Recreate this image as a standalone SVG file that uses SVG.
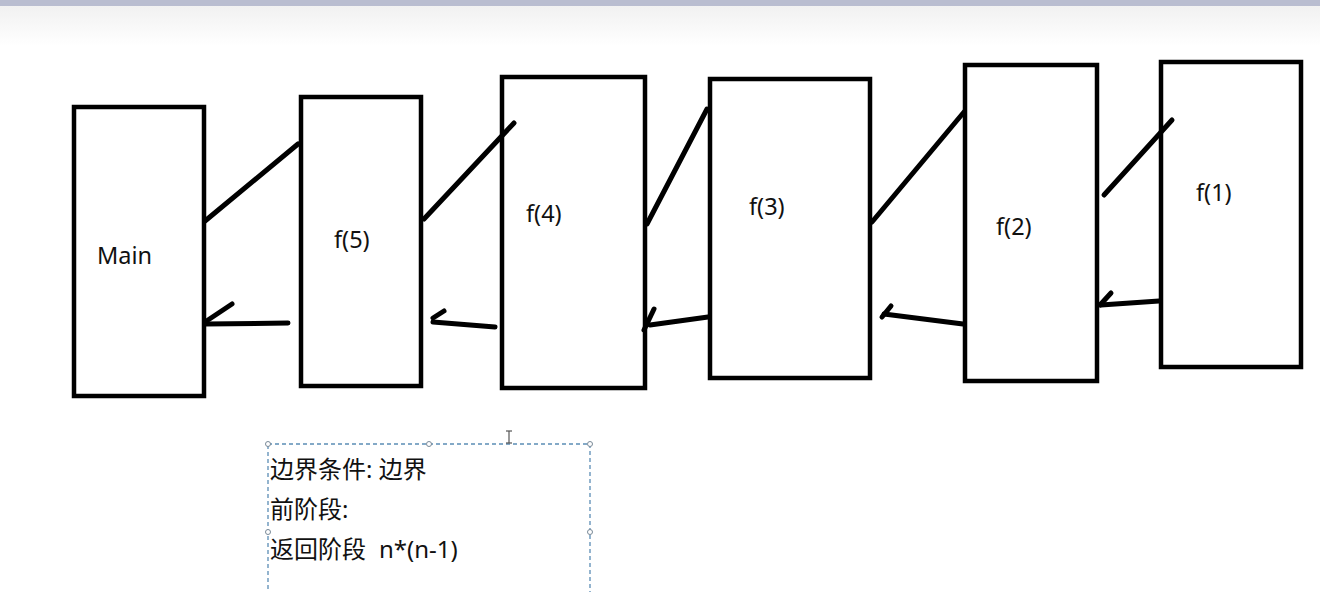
<svg xmlns="http://www.w3.org/2000/svg" width="1320" height="592" viewBox="0 0 1320 592">
<defs>
<linearGradient id="bg" x1="0" y1="0" x2="0" y2="1">
<stop offset="0" stop-color="#f1f1f1"/>
<stop offset="1" stop-color="#ffffff"/>
</linearGradient>
<style>
.box{fill:#ffffff;stroke:#000;stroke-width:4.5}
.ln{stroke:#000;stroke-width:5;stroke-linecap:round;fill:none}
.lbl{font-family:"Noto Sans","Noto Sans CJK SC",sans-serif;font-size:23.5px;fill:#111}
.note{font-family:"Noto Sans","Noto Sans CJK SC",sans-serif;font-size:24px;fill:#111}
.sel{fill:none;stroke:#5b8db5;stroke-width:1.3;stroke-dasharray:4 3}
.hd{fill:#fff;stroke:#7a8a98;stroke-width:1}
</style>
</defs>
<rect width="1320" height="592" fill="#fff"/>
<rect x="0" y="6" width="1320" height="40" fill="url(#bg)"/>
<rect x="0" y="0" width="1320" height="6" fill="#b9bdd0"/>

<g id="main"><rect class="box" x="74" y="107" width="130" height="289"/><text class="lbl" x="97" y="264">Main</text></g>
<g id="f5"><rect class="box" x="301" y="97" width="120" height="289"/><text class="lbl" x="334" y="248">f(5)</text></g>
<g id="f4"><rect class="box" x="502" y="77" width="143" height="311"/><text class="lbl" x="526" y="222">f(4)</text></g>
<g id="f3"><rect class="box" x="710" y="79" width="160" height="299"/><text class="lbl" x="749" y="215">f(3)</text></g>
<g id="f2"><rect class="box" x="965" y="65" width="132" height="316"/><text class="lbl" x="996" y="235">f(2)</text></g>
<g id="f1"><rect class="box" x="1161" y="62" width="140" height="305"/><text class="lbl" x="1196" y="201">f(1)</text></g>

<g id="connectors">
<line class="ln" x1="205" y1="221" x2="298" y2="144"/>
<line class="ln" x1="424" y1="219" x2="514" y2="123"/>
<line class="ln" x1="647" y1="224" x2="707" y2="109"/>
<line class="ln" x1="872" y1="222" x2="964" y2="112"/>
<line class="ln" x1="1104" y1="195" x2="1172" y2="120"/>

<line class="ln" x1="288" y1="323" x2="205" y2="324"/>
<line class="ln" x1="205" y1="322" x2="232" y2="304"/>
<line class="ln" x1="495" y1="327" x2="433" y2="322"/>
<line class="ln" x1="433" y1="318" x2="444" y2="311"/>
<line class="ln" x1="708" y1="317" x2="650" y2="325"/>
<line class="ln" x1="644" y1="330" x2="654" y2="309"/>
<line class="ln" x1="963" y1="324" x2="884" y2="314"/>
<line class="ln" x1="882" y1="317" x2="891" y2="306"/>
<line class="ln" x1="1159" y1="301" x2="1101" y2="305"/>
<line class="ln" x1="1100" y1="305" x2="1111" y2="293"/>
</g>

<g id="note">
<rect class="sel" x="268" y="444" width="322" height="160"/>
<circle class="hd" cx="268" cy="444" r="2.5"/>
<circle class="hd" cx="429" cy="444" r="2.5"/>
<circle class="hd" cx="590" cy="444" r="2.5"/>
<circle class="hd" cx="268" cy="532" r="2.5"/>
<circle class="hd" cx="590" cy="532" r="2.5"/>
<text class="note" x="270" y="478">边界条件: 边界</text>
<text class="note" x="270" y="518">前阶段:</text>
<text class="note" x="270" y="558">返回阶段<tspan x="379">n*(n-1)</tspan></text>
</g>
<g id="cursor" stroke="#555" stroke-width="1.2" fill="none">
<line x1="509" y1="431" x2="509" y2="443"/>
<line x1="506" y1="431" x2="512" y2="431"/>
<line x1="506" y1="443" x2="512" y2="443"/>
</g>
</svg>
